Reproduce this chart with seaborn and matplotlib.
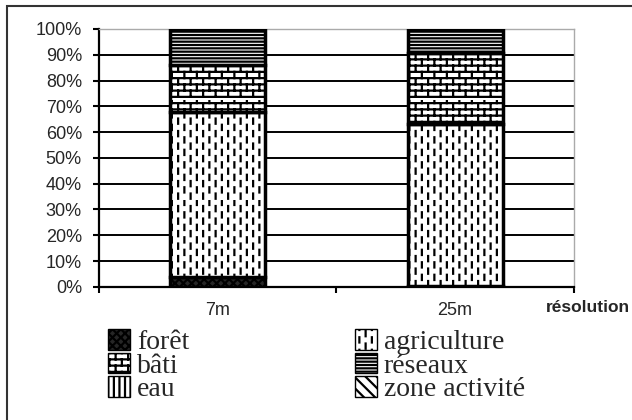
import matplotlib
matplotlib.use("Agg")
import matplotlib.pyplot as plt
import matplotlib.hatch as mhatch
import matplotlib.patches as mpatches
from matplotlib.path import Path
from matplotlib.ticker import PercentFormatter
import numpy as np
import seaborn as sns

resolutions = ['7m', '25m']
classes = ['forêt', 'agriculture', 'bâti', 'réseaux', 'eau', 'zone activité']
foret = [4, 0.5]
agriculture = [64, 62.5]
bati = [18, 27.5]
reseaux = [14, 9.5]
eau = [0, 0]
zone_activite = [0, 0]
values = [foret, agriculture, bati, reseaux, eau, zone_activite]
yticks = list(range(0, 101, 10))


# brick and dash patterns, reusing '*' and '.'
class BrickHatch(mhatch.HatchPatternBase):
    def __init__(self, hatch, density):
        n = hatch.count('*')
        self.rows = 16 * n
        self.cols = 8 * n
        self.num_vertices = 2 * self.rows * (self.cols + 1)

    def set_vertices_and_codes(self, vertices, codes):
        segs = []
        for i in range(self.rows):
            y = (i + 0.5) / self.rows
            segs.append(((0, y), (1, y)))
            for j in range(self.cols):
                x = (j + 0.25 + 0.5 * (i % 2)) / self.cols
                segs.append(((x, y), (x, y + 1 / self.rows)))
        vertices[:] = np.array(segs).reshape(-1, 2)
        codes[0::2] = Path.MOVETO
        codes[1::2] = Path.LINETO


class DashHatch(mhatch.HatchPatternBase):
    def __init__(self, hatch, density):
        n = hatch.count('.')
        self.rows = 8 * n
        self.cols = 16 * n
        self.num_vertices = 2 * self.rows * self.cols

    def set_vertices_and_codes(self, vertices, codes):
        segs = []
        for j in range(self.cols):
            x = (j + 0.5) / self.cols
            for i in range(self.rows):
                y = (i + 0.1 + 0.5 * (j % 2)) / self.rows
                segs.append(((x, y), (x, y + 0.42 / self.rows)))
        vertices[:] = np.array(segs).reshape(-1, 2)
        codes[0::2] = Path.MOVETO
        codes[1::2] = Path.LINETO


mhatch._hatch_types = [h for h in mhatch._hatch_types
                       if h not in (mhatch.Stars, mhatch.SmallFilledCircles)]
mhatch._hatch_types += [BrickHatch, DashHatch]

sns.set_style('white')
plt.rcParams['font.family'] = ['Liberation Sans', 'DejaVu Sans']
plt.rcParams['hatch.linewidth'] = 1.6

hatches = ['xxxx', '.', '*', '-----', '|||', '\\\\\\']
faces = ['0.15', 'white', 'white', 'white', 'white', 'white']

fig = plt.figure(figsize=(6.32, 4.2), dpi=100)
ax = fig.add_axes([0.156, 0.317, 0.752, 0.614])

bottom = np.zeros(len(resolutions))
for name, vals, hatch, fc in zip(classes, values, hatches, faces):
    sns.barplot(x=resolutions, y=vals, bottom=bottom, width=0.4, color=fc,
                saturation=1, edgecolor='black', linewidth=2.5, hatch=hatch,
                errorbar=None, ax=ax, zorder=3)
    bottom = bottom + np.array(vals)

ax.set_xlim(-0.5, 1.5)
ax.set_ylim(0, 100)
ax.set_yticks(yticks)
ax.yaxis.set_major_formatter(PercentFormatter(100, decimals=0))
ax.set_xticks([-0.5, 0.5, 1.5], ['', '', ''])
ax.set_xticks([0, 1], resolutions, minor=True)
ax.tick_params(axis='x', which='major', direction='out', length=4, width=1.5,
               color='black', bottom=True)
ax.tick_params(axis='x', which='minor', length=0, pad=11, labelsize=13,
               bottom=True)
ax.tick_params(axis='y', direction='out', length=4, width=1.5, color='black',
               pad=8, labelsize=13, left=True)
ax.set_xlabel('')
ax.set_ylabel('')

ax.set_axisbelow(True)
ax.grid(axis='y', color='black', linewidth=1.4)
ax.get_ygridlines()[-1].set_color('#aaaaaa')
for side in ['top', 'right']:
    ax.spines[side].set_color('#aaaaaa')
    ax.spines[side].set_linewidth(1)
for side in ['left', 'bottom']:
    ax.spines[side].set_color('black')
    ax.spines[side].set_linewidth(1.6)

fig.text(630 / 632, 1 - 307 / 420, 'résolution', ha='right', va='center',
         fontsize=12.5, fontweight='bold')

handles = [mpatches.Patch(facecolor=fc, edgecolor='black', hatch=h, linewidth=1)
           for h, fc in zip(hatches, faces)]
leg_kw = dict(frameon=False, prop={'family': 'Liberation Serif', 'size': 20},
              handlelength=0.79, handleheight=0.76, handletextpad=0.25,
              labelspacing=-0.08, borderpad=0, borderaxespad=0, loc='upper left')
leg1 = fig.legend(handles[0::2], classes[0::2],
                  bbox_to_anchor=(108 / 632, 1 - 329 / 420), **leg_kw)
leg2 = fig.legend(handles[1::2], classes[1::2],
                  bbox_to_anchor=(355 / 632, 1 - 329 / 420), **leg_kw)

fig.add_artist(mpatches.Rectangle((7 / 632, -0.02), 1.0, 1 - 6 / 420 + 0.02,
                                  transform=fig.transFigure, fill=False,
                                  edgecolor='#333333', linewidth=1.5))

fig.savefig('out.png', dpi=100)
